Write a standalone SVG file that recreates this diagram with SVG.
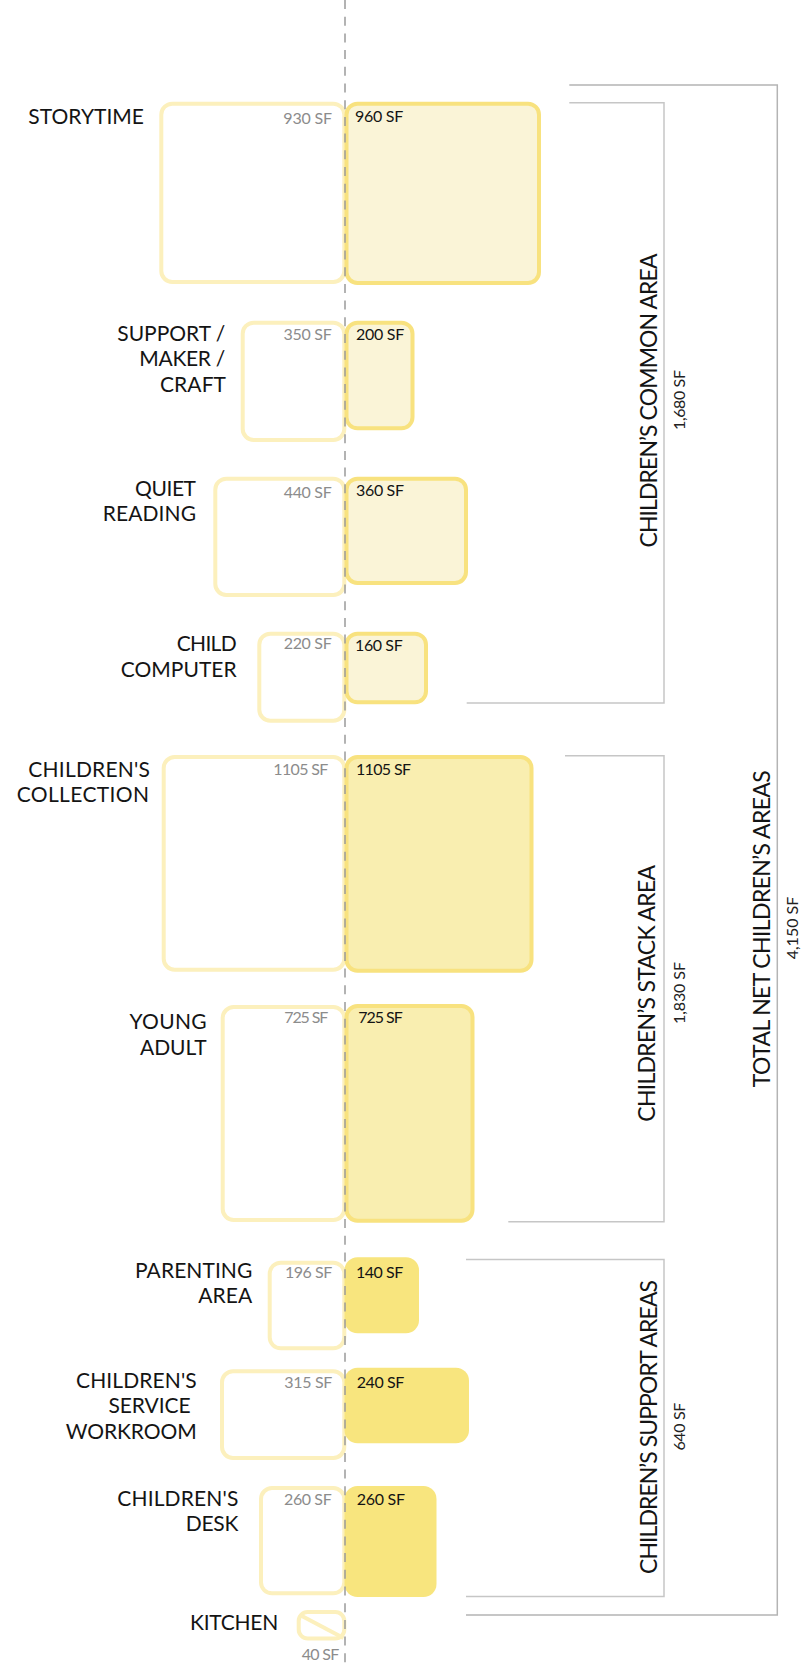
<svg xmlns="http://www.w3.org/2000/svg" width="804" height="1668" viewBox="0 0 804 1668">
<style>
.lbl{font-family:Lato,"Liberation Sans",sans-serif;font-size:21px;fill:#141414;text-anchor:end;}
.old{font-family:Lato,"Liberation Sans",sans-serif;font-size:16px;fill:#8c8c8c;text-anchor:end;}
.new{font-family:Lato,"Liberation Sans",sans-serif;font-size:16px;fill:#141414;}
.grp{font-family:Lato,"Liberation Sans",sans-serif;font-size:23px;fill:#141414;text-anchor:middle;}
.sum{font-family:Lato,"Liberation Sans",sans-serif;font-size:16px;fill:#222;text-anchor:middle;}
.lb{fill:#ffffff;stroke:#fcf0bd;stroke-width:4;}
.cm{fill:#faf4d7;stroke:#f8e27f;stroke-width:4;}
.st{fill:#f9eeb0;stroke:#f8e27f;stroke-width:4;}
.sp{fill:#f8e57e;stroke:none;}
.br{fill:none;stroke:#c6c6c6;stroke-width:1.5;}
.bo{fill:none;stroke:#b4b4b4;stroke-width:1.5;}
.dash{stroke:#9a9a9a;stroke-width:1.5;stroke-dasharray:9 7.7;}
</style>

<g id="storytime">
<rect class="lb" x="161.3" y="103.7" width="183" height="178.3" rx="11"/>
<rect class="cm" x="346.5" y="103.7" width="192.5" height="179.3" rx="11"/>
<text class="lbl" x="144" y="124.3" textLength="115.7">STORYTIME</text>
<text class="old" x="332" y="123.5" textLength="48.7">930 SF</text>
<text class="new" x="355" y="122" textLength="48.3">960 SF</text>
</g>

<g id="support-maker-craft">
<rect class="lb" x="242.7" y="322.7" width="101.6" height="117.3" rx="11"/>
<rect class="cm" x="346.5" y="322.7" width="66" height="105.6" rx="11"/>
<text class="lbl" x="225.3" y="341" textLength="108">SUPPORT /</text>
<text class="lbl" x="225.3" y="366" textLength="86">MAKER /</text>
<text class="lbl" x="226" y="391.7" textLength="66">CRAFT</text>
<text class="old" x="331.7" y="340" textLength="48.3">350 SF</text>
<text class="new" x="356" y="340" textLength="48.3">200 SF</text>
</g>

<g id="quiet-reading">
<rect class="lb" x="215.3" y="478.7" width="129" height="116.3" rx="11"/>
<rect class="cm" x="346.5" y="478.7" width="119.5" height="104.3" rx="11"/>
<text class="lbl" x="196" y="496" textLength="61">QUIET</text>
<text class="lbl" x="196" y="521" textLength="93.3">READING</text>
<text class="old" x="331.7" y="498.3" textLength="48">440 SF</text>
<text class="new" x="356" y="495.7" textLength="48">360 SF</text>
</g>

<g id="child-computer">
<rect class="lb" x="259.3" y="633.7" width="85" height="87" rx="11"/>
<rect class="cm" x="346.5" y="633.7" width="79.5" height="68.6" rx="11"/>
<text class="lbl" x="236.7" y="650.7" textLength="60">CHILD</text>
<text class="lbl" x="236.7" y="676.7" textLength="116">COMPUTER</text>
<text class="old" x="331.7" y="649" textLength="48">220 SF</text>
<text class="new" x="355" y="651" textLength="47.7">160 SF</text>
</g>

<g id="childrens-collection">
<rect class="lb" x="163.7" y="757" width="180.6" height="212.7" rx="11"/>
<rect class="st" x="346.5" y="757" width="185" height="213.7" rx="11"/>
<text class="lbl" x="150" y="776.7" textLength="121.7">CHILDREN'S</text>
<text class="lbl" x="149" y="801.7" textLength="132.3">COLLECTION</text>
<text class="old" x="328.3" y="775" textLength="55">1105 SF</text>
<text class="new" x="356" y="775" textLength="55">1105 SF</text>
</g>

<g id="young-adult">
<rect class="lb" x="222.7" y="1007" width="121.6" height="213" rx="11"/>
<rect class="st" x="346.5" y="1006" width="126" height="214.7" rx="11"/>
<text class="lbl" x="206.7" y="1029.3" textLength="77.3">YOUNG</text>
<text class="lbl" x="206.7" y="1055" textLength="66.7">ADULT</text>
<text class="old" x="328.3" y="1023.3" textLength="44">725 SF</text>
<text class="new" x="358.3" y="1023.3" textLength="44.4">725 SF</text>
</g>

<g id="parenting-area">
<rect class="lb" x="269.7" y="1262.7" width="74.6" height="85.6" rx="11"/>
<rect class="sp" x="344.5" y="1257.3" width="74.5" height="76" rx="13"/>
<text class="lbl" x="252.3" y="1278.3" textLength="117.3">PARENTING</text>
<text class="lbl" x="252.3" y="1303.3" textLength="54">AREA</text>
<text class="old" x="332.3" y="1277.7" textLength="47.3">196 SF</text>
<text class="new" x="356" y="1277.7" textLength="47.3">140 SF</text>
</g>

<g id="childrens-service-workroom">
<rect class="lb" x="222" y="1371.3" width="122.3" height="86.7" rx="11"/>
<rect class="sp" x="344.5" y="1367.7" width="124.5" height="75.6" rx="13"/>
<text class="lbl" x="196.7" y="1387.7" textLength="120.7">CHILDREN'S</text>
<text class="lbl" x="190.7" y="1413.3" textLength="82.3">SERVICE</text>
<text class="lbl" x="196.7" y="1439" textLength="131">WORKROOM</text>
<text class="old" x="332.3" y="1387.7" textLength="48">315 SF</text>
<text class="new" x="356.7" y="1387.7" textLength="47.6">240 SF</text>
</g>

<g id="childrens-desk">
<rect class="lb" x="261" y="1488" width="83.3" height="105.3" rx="11"/>
<rect class="sp" x="344.5" y="1486" width="92" height="111" rx="13"/>
<text class="lbl" x="238.3" y="1505.7" textLength="121">CHILDREN'S</text>
<text class="lbl" x="238.3" y="1530.7" textLength="52.6">DESK</text>
<text class="old" x="331.7" y="1505" textLength="47.7">260 SF</text>
<text class="new" x="356.7" y="1505" textLength="48.3">260 SF</text>
</g>

<g id="kitchen">
<rect class="lb" x="298.7" y="1612" width="45.6" height="26.5" rx="9"/>
<line x1="300" y1="1615" x2="343.5" y2="1638" stroke="#fcf0bd" stroke-width="4"/>
<text class="lbl" x="278.3" y="1630" textLength="88.3">KITCHEN</text>
<text class="old" x="339.3" y="1660" textLength="37.6">40 SF</text>
</g>

<g id="connectors">
<line class="dash" x1="345" y1="0" x2="345" y2="1663"/>
<path class="bo" d="M569.3,85 H777.3 V1615 H466"/>
<path class="br" d="M569.3,102.7 H664 V703 H466.7"/>
<path class="br" d="M565,755.7 H664 V1221.7 H508.3"/>
<path class="br" d="M466,1259.5 H664 V1596.5 H466"/>
</g>

<g id="group-labels">
<text class="grp" transform="translate(656.7,400.5) rotate(-90)" textLength="294">CHILDREN’S COMMON AREA</text>
<text class="sum" transform="translate(685,400) rotate(-90)" textLength="60">1,680 SF</text>
<text class="grp" transform="translate(655,993.3) rotate(-90)" textLength="256.7">CHILDREN’S STACK AREA</text>
<text class="sum" transform="translate(685,993) rotate(-90)" textLength="62">1,830 SF</text>
<text class="grp" transform="translate(656.7,1427) rotate(-90)" textLength="294">CHILDREN’S SUPPORT AREAS</text>
<text class="sum" transform="translate(685,1426.6) rotate(-90)" textLength="48">640 SF</text>
<text class="grp" transform="translate(770,928.7) rotate(-90)" textLength="317">TOTAL NET CHILDREN’S AREAS</text>
<text class="sum" transform="translate(798.3,928) rotate(-90)" textLength="62.7">4,150 SF</text>
</g>
</svg>
